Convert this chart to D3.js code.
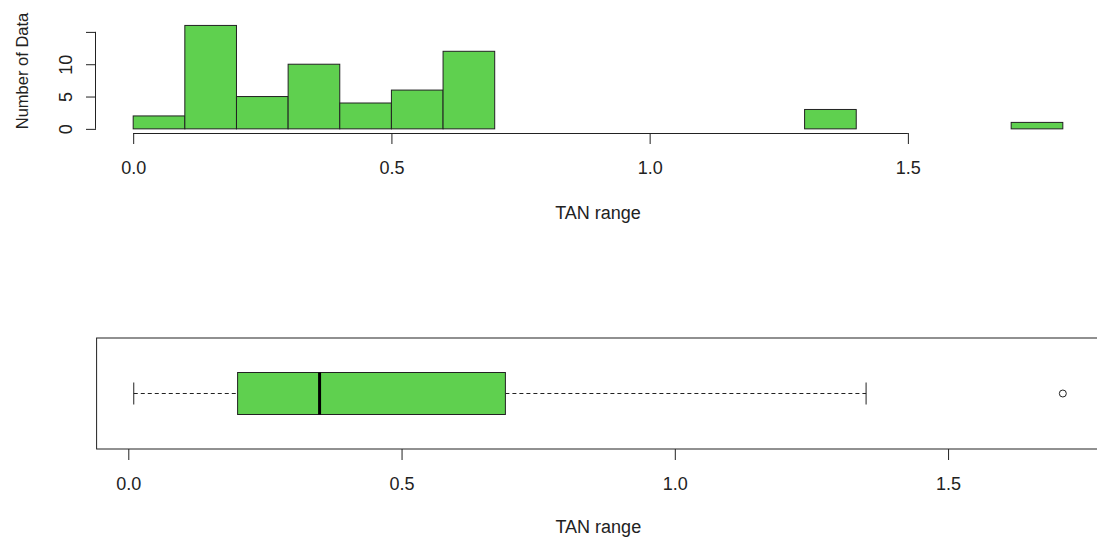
<!DOCTYPE html>
<html>
<head>
<meta charset="utf-8">
<script src="https://cdn.jsdelivr.net/npm/d3@7"></script>
<style>
  html, body { margin: 0; padding: 0; background: #fff; }
  svg { display: block; font-family: "Liberation Sans", Arial, sans-serif; }
</style>
</head>
<body>
<svg id="chart" width="1097" height="540"></svg>
<script>
// Histogram of TAN range: bin edges and counts per bin
const binEdges = [0, 0.1, 0.2, 0.3, 0.4, 0.5, 0.6, 0.7, 0.8, 0.9, 1.0, 1.1, 1.2, 1.3, 1.4, 1.5, 1.6, 1.7, 1.8];
const binCounts = [2, 16, 5, 10, 4, 6, 12, 0, 0, 0, 0, 0, 0, 3, 0, 0, 0, 1];

// Axis ticks
const xTicks = [0, 0.5, 1.0, 1.5];
const xTickLabels = ["0.0", "0.5", "1.0", "1.5"];
const yTicks = [0, 5, 10, 15];
const yTickLabels = ["0", "5", "10", ""];

// Box plot summary of the same variable
const boxStats = { lowerWhisker: 0.01, q1: 0.20, median: 0.35, q3: 0.69, upperWhisker: 1.35 };
const outliers = [1.71];

const fill = "#5fd04f";
const ink = "#222";
const fontSize = 18;
const svg = d3.select("#chart");

// ---------- top panel: histogram ----------
const xH = d3.scaleLinear().domain([-0.072, 1.872]).range([96, 1100]);
const yH = d3.scaleLinear().domain([-0.64, 16.64]).range([133, 21.3]);

const bins = binCounts.map((c, i) => ({ x0: binEdges[i], x1: binEdges[i + 1], n: c }));

svg.append("g").selectAll("rect").data(bins).join("rect")
  .attr("x", d => xH(d.x0))
  .attr("y", d => yH(d.n))
  .attr("width", d => xH(d.x1) - xH(d.x0))
  .attr("height", d => yH(0) - yH(d.n))
  .attr("fill", fill)
  .attr("stroke", ink)
  .attr("stroke-width", 1);

// x axis (bottom of plot region)
const xAxisH = d3.axisBottom(xH).tickValues(xTicks)
  .tickFormat((d, i) => xTickLabels[i]).tickSizeOuter(0).tickSize(11);
const gxH = svg.append("g").attr("transform", "translate(0,133)").call(xAxisH);
gxH.select(".domain").attr("d", `M${xH(xTicks[0])},0.5H${xH(xTicks[xTicks.length - 1])}`);
gxH.selectAll(".tick text").attr("y", 41).attr("dy", null);

// y axis (left of plot region)
const yAxisH = d3.axisLeft(yH).tickValues(yTicks)
  .tickFormat((d, i) => yTickLabels[i]).tickSizeOuter(0).tickSize(10);
const gyH = svg.append("g").attr("transform", "translate(96,0)").call(yAxisH);
gyH.select(".domain").attr("d", `M-0.5,${yH(yTicks[0])}V${yH(yTicks[yTicks.length - 1])}`);
gyH.selectAll(".tick text")
  .attr("x", 0).attr("y", 0).attr("dy", null)
  .attr("text-anchor", "middle")
  .attr("transform", "translate(-24,0) rotate(-90)");

const centerH = (xH.range()[0] + xH.range()[1]) / 2;
svg.append("text").attr("x", centerH).attr("y", 219)
  .attr("text-anchor", "middle").attr("font-size", fontSize).attr("fill", ink).text("TAN range");
svg.append("text").attr("transform", `translate(28,71) rotate(-90)`)
  .attr("text-anchor", "middle").attr("font-size", 16.5).attr("fill", ink).text("Number of Data");

// ---------- bottom panel: horizontal box plot ----------
const xB = d3.scaleLinear().domain([-0.058, 1.778]).range([96.6, 1100]);
const yB = d3.scaleLinear().domain([0.5, 1.5]).range([449, 338]);
const yc = yB(1);
const boxHalf = 21;
const capHalf = 11;

svg.append("rect")
  .attr("x", xB.range()[0]).attr("y", yB(1.5))
  .attr("width", xB.range()[1] - xB.range()[0]).attr("height", yB(0.5) - yB(1.5))
  .attr("fill", "none").attr("stroke", ink).attr("stroke-width", 1);

const g = svg.append("g");
// whiskers
g.append("line").attr("x1", xB(boxStats.lowerWhisker)).attr("x2", xB(boxStats.q1))
  .attr("y1", yc).attr("y2", yc).attr("stroke", ink).attr("stroke-dasharray", "4,3");
g.append("line").attr("x1", xB(boxStats.q3)).attr("x2", xB(boxStats.upperWhisker))
  .attr("y1", yc).attr("y2", yc).attr("stroke", ink).attr("stroke-dasharray", "4,3");
[boxStats.lowerWhisker, boxStats.upperWhisker].forEach(v => {
  g.append("line").attr("x1", xB(v)).attr("x2", xB(v))
    .attr("y1", yc - capHalf).attr("y2", yc + capHalf).attr("stroke", ink);
});
// box
g.append("rect").attr("x", xB(boxStats.q1)).attr("y", yc - boxHalf)
  .attr("width", xB(boxStats.q3) - xB(boxStats.q1)).attr("height", 2 * boxHalf)
  .attr("fill", fill).attr("stroke", ink);
// median
g.append("line").attr("x1", xB(boxStats.median)).attr("x2", xB(boxStats.median))
  .attr("y1", yc - boxHalf).attr("y2", yc + boxHalf).attr("stroke", "#000").attr("stroke-width", 3);
// outliers
g.selectAll("circle").data(outliers).join("circle")
  .attr("cx", d => xB(d)).attr("cy", yc).attr("r", 3.5)
  .attr("fill", "none").attr("stroke", ink);

const xAxisB = d3.axisBottom(xB).tickValues(xTicks)
  .tickFormat((d, i) => xTickLabels[i]).tickSizeOuter(0).tickSize(11);
const gxB = svg.append("g").attr("transform", "translate(0,449)").call(xAxisB);
gxB.select(".domain").remove();
gxB.selectAll(".tick text").attr("y", 41).attr("dy", null);

const centerB = (xB.range()[0] + xB.range()[1]) / 2;
svg.append("text").attr("x", centerB).attr("y", 533)
  .attr("text-anchor", "middle").attr("font-size", fontSize).attr("fill", ink).text("TAN range");

// shared axis styling
svg.selectAll(".tick line").attr("stroke", ink);
svg.selectAll(".domain").attr("stroke", ink);
svg.selectAll(".tick text").attr("font-size", fontSize).attr("fill", ink)
  .attr("font-family", "Liberation Sans, Arial, sans-serif");
</script>
</body>
</html>
